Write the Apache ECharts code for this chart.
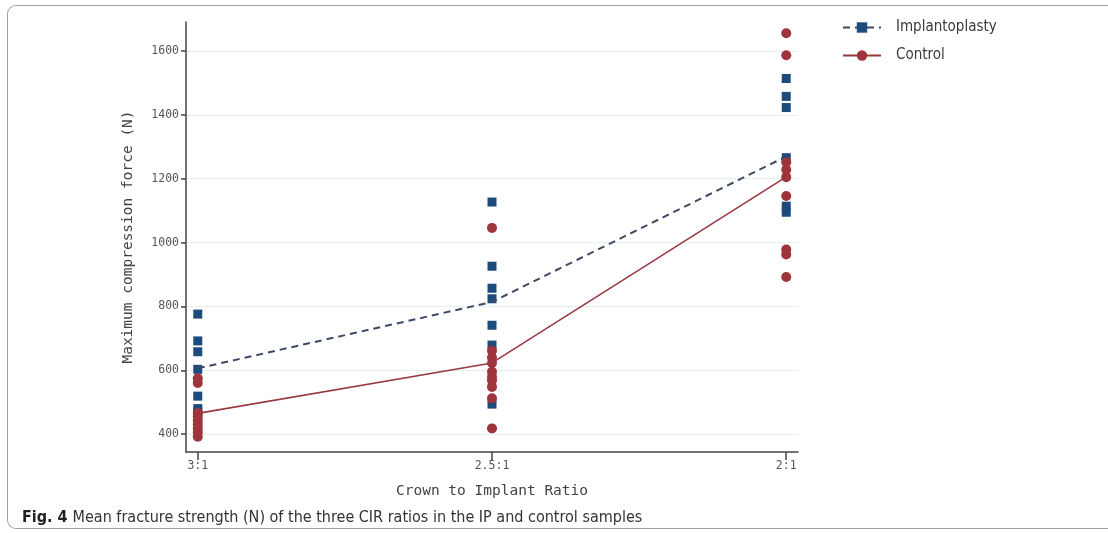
<!DOCTYPE html>
<html>
<head>
<meta charset="utf-8">
<script src="https://cdn.jsdelivr.net/npm/echarts@6/dist/echarts.min.js"></script>
<style>
html,body{margin:0;padding:0;background:#fff;}
#frame{position:absolute;left:7px;top:5px;width:1120px;height:524px;border:1.5px solid #a0a0a0;border-right:none;border-radius:9px 0 0 9px;box-sizing:border-box;}
#c{position:absolute;left:0;top:0;width:1108px;height:533px;}
</style>
</head>
<body>
<div id="frame"></div>
<div id="c"></div>
<script>
// ---- data ----
const categories = ['3:1', '2.5:1', '2:1'];
const yTicks = [400, 600, 800, 1000, 1200, 1400, 1600];
const ipMeans = [606, 814, 1270];
const controlMeans = [465, 623, 1206];
const ip_3_1 = [776, 692, 658, 603, 519, 480, 470];
const ip_2_5_1 = [1127, 926, 857, 824, 741, 679, 494];
const ip_2_1 = [1514, 1458, 1423, 1266, 1114, 1095];
const control_3_1 = [575, 560, 466, 455, 443, 430, 418, 405, 392];
const control_2_5_1 = [1046, 661, 640, 623, 595, 580, 569, 548, 512, 418];
const control_2_1 = [1656, 1587, 1252, 1228, 1205, 1146, 978, 963, 892];

const ipGroups = [ip_3_1, ip_2_5_1, ip_2_1];
const controlGroups = [control_3_1, control_2_5_1, control_2_1];
function toPoints(groups){
  const out = [];
  groups.forEach((g, i) => g.forEach(v => out.push([i, v])));
  return out;
}
const mono = 'DejaVu Sans Mono';
const narrow = 'Liberation Sans Narrow, DejaVu Sans Condensed, sans-serif';
const chart = echarts.init(document.getElementById('c'), null, {renderer:'canvas'});
chart.setOption({
  animation:false,
  backgroundColor:'transparent',
  grid:{left:186, right:310, top:22, bottom:81},
  legend:{
    orient:'vertical', left:837, top:15, itemWidth:38, itemHeight:13, itemGap:13,
    data:['Implantoplasty','Control'],
    textStyle:{fontFamily:narrow, fontSize:15, color:'#3a3a3a', padding:[0,0,0,10]}
  },
  title:{
    text:'{b|Fig. 4} {n|Mean fracture strength (N) of the three CIR ratios in the IP and control samples}',
    left:22, top:509, padding:0,
    textStyle:{fontWeight:'normal', rich:{
      b:{fontFamily:narrow, fontWeight:'bold', fontSize:16, color:'#222'},
      n:{fontFamily:narrow, fontWeight:'normal', fontSize:16, color:'#333'}
    }}
  },
  xAxis:{
    type:'value', min:-0.04, max:2.04,
    name:'Crown to Implant Ratio', nameLocation:'middle', nameGap:32,
    nameTextStyle:{fontFamily:mono, fontSize:14.5, color:'#444'},
    axisLine:{show:true, onZero:false, lineStyle:{color:'#444', width:1.5}},
    axisTick:{show:true, length:8, customValues:[0,1,2], lineStyle:{color:'#444', width:1.5}},
    axisLabel:{customValues:[0,1,2], formatter:v => categories[Math.round(v)], fontFamily:mono, fontSize:11.5, color:'#555', margin:8},
    splitLine:{show:false}
  },
  yAxis:{
    type:'value', min:344, max:1691,
    name:'Maximum compression force (N)', nameLocation:'middle', nameGap:50,
    nameTextStyle:{fontFamily:mono, fontSize:14.5, color:'#444'},
    axisLine:{show:true, onZero:false, lineStyle:{color:'#444', width:1.5}},
    axisTick:{show:true, length:5, customValues:yTicks, lineStyle:{color:'#444', width:1.5}},
    axisLabel:{customValues:yTicks, formatter:v => String(v), fontFamily:mono, fontSize:11.5, color:'#555', margin:7},
    splitLine:{show:true, lineStyle:{color:'#e6efef', width:1}}
  },
  series:[
    {name:'IP points', type:'scatter', symbol:'rect', symbolSize:9, z:2,
     itemStyle:{color:'#1c4b7c', opacity:1}, data:toPoints(ipGroups)},
    {name:'Control points', type:'scatter', symbol:'circle', symbolSize:10, z:3,
     itemStyle:{color:'#a0343c', opacity:1}, data:toPoints(controlGroups)},
    {name:'Implantoplasty', type:'line', symbol:'rect', showSymbol:false, z:5,
     itemStyle:{color:'#1c4b7c'},
     lineStyle:{color:'#3d4a66', width:2, type:[7,5]},
     data:ipMeans.map((v,i)=>[i,v])},
    {name:'Control', type:'line', symbol:'circle', showSymbol:false, z:5,
     itemStyle:{color:'#a0343c'},
     lineStyle:{color:'#983a40', width:1.6},
     data:controlMeans.map((v,i)=>[i,v])}
  ]
});
</script>
</body>
</html>
